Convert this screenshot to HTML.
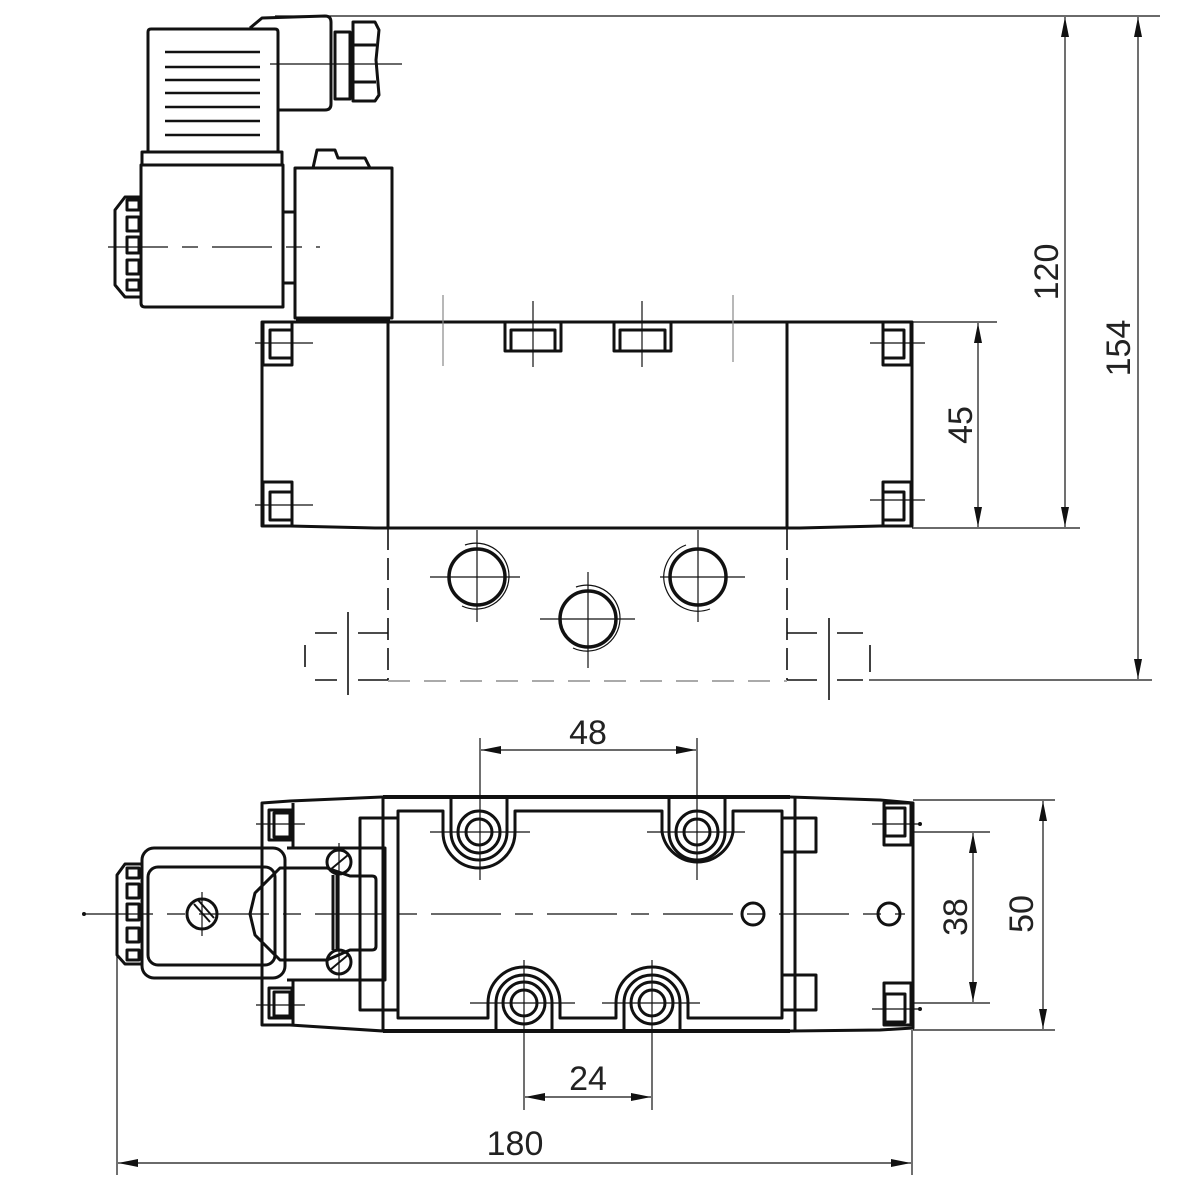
<!DOCTYPE html>
<html><head><meta charset="utf-8"><style>
html,body{margin:0;padding:0;background:#fff}
svg{display:block}
text{font-family:"Liberation Sans",sans-serif;font-size:34px;fill:#222}
</style></head><body>
<svg width="1200" height="1200" viewBox="0 0 1200 1200" xmlns="http://www.w3.org/2000/svg">
<defs>
<marker id="a" viewBox="0 0 20 8" refX="20" refY="4" markerWidth="20" markerHeight="8" markerUnits="userSpaceOnUse" orient="auto-start-reverse"><path d="M0,0 L20,4 L0,8 z" fill="#111"/></marker>
</defs>
<g fill="none" stroke="#111" stroke-width="3" stroke-linejoin="round">
<path d="M148,32 Q148,29 151,29 L275,29 Q278,29 278,32 L278,152 L148,152 Z"/>
<path d="M250,28 L262,18 L325,16 Q331,16 331,22 L331,104 Q331,110 325,110 L278,110"/>
<g stroke-width="2.5"><line x1="165" y1="52" x2="260" y2="52"/><line x1="165" y1="67" x2="260" y2="67"/><line x1="165" y1="80" x2="260" y2="80"/><line x1="165" y1="93" x2="260" y2="93"/><line x1="165" y1="107" x2="260" y2="107"/><line x1="165" y1="121" x2="260" y2="121"/><line x1="165" y1="135" x2="260" y2="135"/></g>
<rect x="335" y="32" width="15" height="67"/>
<path d="M353,22 L375,22 L379,30 L376,60 L379,95 L375,101 L353,101 Z"/>
<line x1="353" y1="45" x2="376" y2="45"/><line x1="353" y1="82" x2="376" y2="82"/>
<rect x="142" y="152" width="140" height="13"/>
<path d="M141,165 L283,165 L283,307 L145,307 Q141,307 141,303 Z"/>
<path d="M141,197 L125,197 L115,210 L115,285 L125,297 L141,297"/>
<rect x="127" y="200" width="12" height="10"/><rect x="127" y="217" width="12" height="14"/><rect x="127" y="237" width="12" height="16"/><rect x="127" y="260" width="12" height="14"/><rect x="127" y="280" width="12" height="10"/>
<rect x="283" y="212" width="12" height="71"/>
<rect x="295" y="168" width="97" height="150"/>
<path d="M313,168 L317,150 L335,150 L338,158 L365,158 L370,168"/>
<line x1="296" y1="320" x2="390" y2="320" stroke-width="4"/>
<path d="M262,322 L912,322 L912,526 L880,526 L800,528 L375,528 L290,526 L262,526 Z"/>
<line x1="388" y1="322" x2="388" y2="528"/><line x1="787" y1="322" x2="787" y2="528"/>
<rect x="263" y="322" width="29" height="43"/><rect x="270" y="330" width="22" height="28"/>
<rect x="263" y="482" width="29" height="44"/><rect x="270" y="492" width="22" height="28"/>
<rect x="883" y="322" width="28" height="43"/><rect x="883" y="330" width="21" height="28"/>
<rect x="883" y="482" width="28" height="44"/><rect x="883" y="492" width="21" height="28"/>
<rect x="505" y="322" width="56" height="29"/><rect x="511" y="330" width="44" height="21"/>
<rect x="614" y="322" width="57" height="29"/><rect x="620" y="330" width="45" height="21"/>
<ellipse cx="477" cy="577" rx="28" ry="28" stroke-width="3.5"/>
<ellipse cx="588" cy="619" rx="28" ry="28" stroke-width="3.5"/>
<ellipse cx="698" cy="577" rx="28" ry="28" stroke-width="3.5"/>
</g>
<g fill="none" stroke="#111" stroke-width="1.2">
<path d="M465,545 A33,33 0 1 1 462,606"/>
<path d="M576,587 A33,33 0 1 1 573,648"/>
<path d="M686,545 A33,33 0 1 0 710,609"/>
<line x1="430" y1="577" x2="520" y2="577"/><line x1="477" y1="530" x2="477" y2="622"/>
<line x1="540" y1="619" x2="635" y2="619"/><line x1="588" y1="572" x2="588" y2="668"/>
<line x1="660" y1="577" x2="745" y2="577"/><line x1="698" y1="530" x2="698" y2="622"/>
<line x1="255" y1="343" x2="313" y2="343"/><line x1="255" y1="505" x2="313" y2="505"/>
<line x1="870" y1="343" x2="925" y2="343"/><line x1="870" y1="500" x2="925" y2="500"/>
<line x1="533" y1="301" x2="533" y2="367"/><line x1="642" y1="301" x2="642" y2="367"/>
<line x1="443" y1="295" x2="443" y2="366" stroke="#888"/><line x1="733" y1="295" x2="733" y2="362" stroke="#888"/>
<line x1="270" y1="64" x2="402" y2="64"/>
<line x1="108" y1="247" x2="320" y2="247" stroke-dasharray="60,14,16,14"/>
<g stroke-width="1.6">
<line x1="388" y1="528" x2="388" y2="680" stroke-dasharray="22,8"/>
<line x1="787" y1="528" x2="787" y2="680" stroke-dasharray="22,8"/>
<line x1="388" y1="681" x2="787" y2="681" stroke="#aaa" stroke-width="2" stroke-dasharray="22,14"/>
<line x1="315" y1="633" x2="337" y2="633"/><line x1="358" y1="633" x2="388" y2="633"/>
<line x1="315" y1="680" x2="337" y2="680"/><line x1="358" y1="680" x2="388" y2="680"/>
<line x1="348" y1="612" x2="348" y2="695"/><line x1="305" y1="645" x2="305" y2="667"/>
<line x1="787" y1="633" x2="817" y2="633"/><line x1="837" y1="633" x2="863" y2="633"/>
<line x1="787" y1="680" x2="817" y2="680"/><line x1="837" y1="680" x2="863" y2="680"/>
<line x1="829" y1="618" x2="829" y2="700"/><line x1="870" y1="645" x2="870" y2="672"/>
</g>
<line x1="275" y1="16" x2="1160" y2="16"/>
<line x1="912" y1="322" x2="997" y2="322"/><line x1="912" y1="528" x2="1080" y2="528"/>
<line x1="869" y1="680" x2="1152" y2="680"/>
<line x1="978" y1="323" x2="978" y2="527" marker-start="url(#a)" marker-end="url(#a)"/>
<line x1="1065" y1="17" x2="1065" y2="527" marker-start="url(#a)" marker-end="url(#a)"/>
<line x1="1138" y1="17" x2="1138" y2="679" marker-start="url(#a)" marker-end="url(#a)"/>
</g>
<text transform="translate(972,425) rotate(-90)" text-anchor="middle">45</text>
<text transform="translate(1058,272) rotate(-90)" text-anchor="middle">120</text>
<text transform="translate(1130,348) rotate(-90)" text-anchor="middle">154</text>

<g fill="none" stroke="#111" stroke-width="3" stroke-linejoin="round">
<path d="M262,803 L290,801 L383,797 L790,797 L880,800 L913,803 L913,1028 L880,1030 L790,1031 L383,1031 L290,1025 L262,1025 Z"/>
<line x1="383" y1="797" x2="790" y2="797" stroke-width="4"/>
<line x1="383" y1="1031" x2="790" y2="1031" stroke-width="4"/>
<line x1="383" y1="797" x2="383" y2="1031"/>
<line x1="795" y1="797" x2="795" y2="1031"/>
<line x1="293" y1="803" x2="293" y2="848"/><line x1="293" y1="980" x2="293" y2="1025"/>
<rect x="269" y="810" width="23" height="30"/><rect x="274" y="813" width="16" height="24"/>
<rect x="269" y="988" width="23" height="30"/><rect x="274" y="992" width="16" height="24"/>
<rect x="884" y="803" width="27" height="42"/><rect x="885" y="808" width="20" height="28"/>
<rect x="884" y="983" width="27" height="42"/><rect x="885" y="994" width="20" height="28"/>
<rect x="360" y="818" width="38" height="192"/>
<rect x="782" y="818" width="34" height="34"/><rect x="782" y="975" width="34" height="35"/>
<path d="M398,811 L443,811 L443,832 A36,36 0 0 0 515,832 L515,811 L662,811 L662,832 A36,36 0 0 0 733,832 L733,811 L782,811 L782,1018 L688,1018 L688,1003 A36,36 0 0 0 616,1003 L616,1018 L560,1018 L560,1003 A36,36 0 0 0 488,1003 L488,1018 L398,1018 Z"/>
<path d="M451,797 L451,832 A28,28 0 0 0 507,832 L507,797"/>
<path d="M669,797 L669,832 A28,28 0 0 0 725,832 L725,797"/>
<path d="M496,1031 L496,1003 A28,28 0 0 1 552,1003 L552,1031"/>
<path d="M624,1031 L624,1003 A28,28 0 0 1 680,1003 L680,1031"/>
<circle cx="479" cy="832" r="21"/><circle cx="479" cy="832" r="13"/>
<circle cx="697" cy="832" r="21"/><circle cx="697" cy="832" r="13"/>
<circle cx="524" cy="1003" r="21"/><circle cx="524" cy="1003" r="13"/>
<circle cx="652" cy="1003" r="21"/><circle cx="652" cy="1003" r="13"/>
<circle cx="753" cy="914" r="11"/><circle cx="889" cy="914" r="11"/>
<rect x="142" y="848" width="143" height="130" rx="12"/>
<rect x="148" y="867" width="127" height="98" rx="10"/>
<path d="M141,864 L125,864 L117,875 L117,955 L125,964 L141,964"/>
<rect x="127" y="868" width="12" height="10"/><rect x="127" y="884" width="12" height="14"/><rect x="127" y="904" width="12" height="16"/><rect x="127" y="928" width="12" height="14"/><rect x="127" y="950" width="12" height="10"/>
<circle cx="202" cy="914" r="15"/>
<path d="M287,848 L385,848 L385,980 L287,980"/>
<path d="M280,868 L327,868 L350,876 L372,876 Q376,876 376,880 L376,946 Q376,950 372,950 L350,950 L327,960 L280,960 L255,935 L250,914 L255,893 Z"/>
<line x1="333" y1="875" x2="333" y2="950"/><line x1="337" y1="875" x2="337" y2="950"/>
<circle cx="339" cy="862" r="12"/><circle cx="339" cy="962" r="12"/>
</g>
<g fill="none" stroke="#111" stroke-width="1.2">
<line x1="194" y1="904" x2="210" y2="922" stroke-width="2"/><line x1="198" y1="900" x2="214" y2="918" stroke-width="2"/>
<line x1="330" y1="870" x2="348" y2="855" stroke-width="2"/><line x1="330" y1="970" x2="348" y2="955" stroke-width="2"/>
<line x1="83" y1="914" x2="905" y2="914" stroke-dasharray="70,14,18,14"/>
<line x1="202" y1="892" x2="202" y2="936"/>
<line x1="339" y1="843" x2="339" y2="980"/>
<line x1="256" y1="824" x2="305" y2="824"/><line x1="256" y1="1005" x2="305" y2="1005"/>
<line x1="430" y1="832" x2="530" y2="832"/><line x1="647" y1="832" x2="745" y2="832"/>
<line x1="470" y1="1003" x2="575" y2="1003"/><line x1="602" y1="1003" x2="700" y2="1003"/>
<line x1="872" y1="824" x2="920" y2="824"/>
<line x1="872" y1="1009" x2="920" y2="1009"/>
<line x1="912" y1="832" x2="990" y2="832"/><line x1="912" y1="1003" x2="990" y2="1003"/>
<line x1="913" y1="800" x2="1055" y2="800"/><line x1="913" y1="1030" x2="1055" y2="1030"/>
<line x1="480" y1="738" x2="480" y2="880"/><line x1="697" y1="738" x2="697" y2="880"/>
<line x1="524" y1="960" x2="524" y2="1110"/><line x1="652" y1="960" x2="652" y2="1110"/>
<line x1="117" y1="914" x2="117" y2="1175"/><line x1="912" y1="1030" x2="912" y2="1175"/>
<line x1="481" y1="750" x2="696" y2="750" marker-start="url(#a)" marker-end="url(#a)"/>
<line x1="525" y1="1097" x2="651" y2="1097" marker-start="url(#a)" marker-end="url(#a)"/>
<line x1="118" y1="1163" x2="911" y2="1163" marker-start="url(#a)" marker-end="url(#a)"/>
<line x1="973" y1="833" x2="973" y2="1002" marker-start="url(#a)" marker-end="url(#a)"/>
<line x1="1043" y1="801" x2="1043" y2="1029" marker-start="url(#a)" marker-end="url(#a)"/>
</g>
<circle cx="84" cy="914" r="2" fill="#111"/>
<circle cx="920" cy="824" r="2" fill="#111"/><circle cx="920" cy="1009" r="2" fill="#111"/>
<text x="588" y="744" text-anchor="middle">48</text>
<text x="588" y="1090" text-anchor="middle">24</text>
<text x="515" y="1155" text-anchor="middle">180</text>
<text transform="translate(967,917) rotate(-90)" text-anchor="middle">38</text>
<text transform="translate(1033,914) rotate(-90)" text-anchor="middle">50</text>
</svg>
</body></html>
